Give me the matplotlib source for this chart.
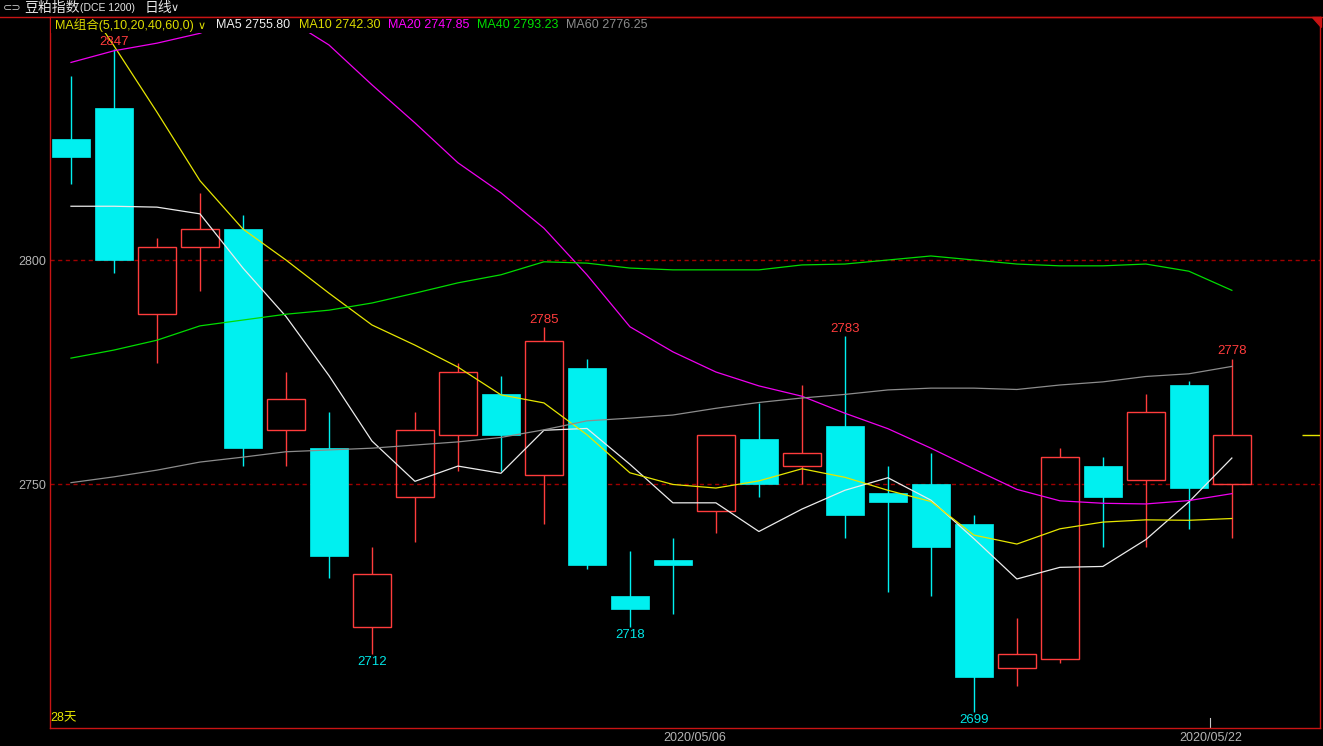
import matplotlib
matplotlib.use('Agg')
import matplotlib.pyplot as plt
from matplotlib.patches import Rectangle, Polygon
from matplotlib.lines import Line2D

# daily candles, soybean meal index (DCE), 28 days
opens  = [2827, 2834, 2788, 2803, 2807, 2762, 2758, 2718, 2747, 2761, 2770, 2752, 2776, 2725,
          2733, 2744, 2760, 2754, 2763, 2748, 2750, 2741, 2709, 2711, 2754, 2751, 2772, 2750]
highs  = [2841, 2847, 2805, 2815, 2810, 2775, 2766, 2736, 2766, 2777, 2774, 2785, 2778, 2735,
          2738, 2761, 2768, 2772, 2783, 2754, 2757, 2743, 2720, 2758, 2756, 2770, 2773, 2778]
lows   = [2817, 2797, 2777, 2793, 2754, 2754, 2729, 2712, 2737, 2753, 2753, 2741, 2731, 2718,
          2721, 2739, 2747, 2750, 2738, 2726, 2725, 2699, 2705, 2710, 2736, 2736, 2740, 2738]
closes = [2823, 2800, 2803, 2807, 2758, 2769, 2734, 2730, 2762, 2775, 2761, 2782, 2732, 2722,
          2732, 2761, 2750, 2757, 2743, 2746, 2736, 2707, 2712, 2756, 2747, 2766, 2749, 2761]

ma5 = [2812.0, 2812.0, 2811.8, 2810.3, 2798.2, 2787.4, 2774.2, 2759.6, 2750.6, 2754.0, 2752.4,
       2762.0, 2762.4, 2754.4, 2745.8, 2745.8, 2739.4, 2744.4, 2748.6, 2751.4, 2746.4, 2737.8,
       2728.8, 2731.4, 2731.6, 2737.6, 2746.0, 2755.8]
ma10 = [2862.0, 2847.8, 2833.0, 2817.7, 2806.9, 2800.0, 2792.6, 2785.5, 2781.0, 2776.1, 2769.9,
        2768.1, 2761.0, 2752.5, 2749.9, 2749.1, 2750.7, 2753.4, 2751.5, 2748.6, 2746.1, 2738.6,
        2736.6, 2740.0, 2741.5, 2742.0, 2741.9, 2742.3]
ma20 = [2844.1, 2846.7, 2848.4, 2850.6, 2854.5, 2854.0, 2848.0, 2839.1, 2830.6, 2821.7, 2815.0,
        2807.1, 2796.7, 2785.1, 2779.5, 2775.0, 2771.9, 2769.6, 2765.8, 2762.35, 2758.0, 2753.35,
        2748.8, 2746.25, 2745.7, 2745.55, 2746.3, 2747.85]
ma40 = [2778.1, 2779.9, 2782.1, 2785.3, 2786.6, 2787.9, 2788.8, 2790.4, 2792.6, 2794.9, 2796.7,
        2799.6, 2799.3, 2798.2, 2797.8, 2797.8, 2797.8, 2798.9, 2799.1, 2800.0, 2800.9, 2800.0,
        2799.1, 2798.7, 2798.7, 2799.1, 2797.5, 2793.23]
ma60 = [2750.3, 2751.6, 2753.1, 2754.9, 2756.0, 2757.2, 2757.6, 2758.0, 2758.7, 2759.4, 2760.4,
        2762.1, 2764.1, 2764.7, 2765.4, 2766.9, 2768.2, 2769.2, 2770.0, 2771.0, 2771.4, 2771.4,
        2771.1, 2772.1, 2772.8, 2774.0, 2774.6, 2776.25]

grid_levels = [2800, 2750]
date_pos = [14.5, 26.5]
date_labels = ['2020/05/06', '2020/05/22']
hi_marks = [1, 11, 18, 27]
lo_marks = [7, 13, 21]

W, H = 1323, 746
UP = '#ff3c3c'
DOWN = '#00f0f0'
FRAME = '#c81414'
plt.rcParams['font.family'] = ['Liberation Sans', 'Noto Sans CJK SC', 'DejaVu Sans']


def fx(px):
    return px / W


def fy(py):
    return 1 - py / H


fig = plt.figure(figsize=(W / 100, H / 100), dpi=100, facecolor='black')
ax = fig.add_axes([50 / W, 1 - 728 / H, 1270 / W, 711 / H], facecolor='black')
ax.set_xlim(-0.488, 29.05)
ax.set_ylim(2695.54, 2854.24)

for lvl in grid_levels:
    ax.axhline(lvl, color='#a00000', lw=1, ls=(0, (3, 2.5)), zorder=1)

# candles
w = 0.88
for i in range(len(closes)):
    o, h, l, c = opens[i], highs[i], lows[i], closes[i]
    if c >= o:
        ax.vlines(i, c, h, color=UP, lw=1, zorder=2)
        ax.vlines(i, l, o, color=UP, lw=1, zorder=2)
        ax.add_patch(Rectangle((i - w / 2, o), w, c - o, facecolor='none',
                               edgecolor=UP, lw=1, zorder=2))
    else:
        ax.vlines(i, l, h, color=DOWN, lw=1, zorder=2)
        ax.add_patch(Rectangle((i - w / 2, c), w, o - c, facecolor=DOWN,
                               edgecolor=DOWN, lw=0.5, zorder=2))

xs = list(range(len(closes)))
ax.plot(xs, ma5, color='#ececec', lw=0.9, zorder=3)
ax.plot(xs, ma10, color='#e6e600', lw=0.9, zorder=3)
ax.plot(xs, ma20, color='#f000f0', lw=0.9, zorder=3)
ax.plot(xs, ma40, color='#00dc00', lw=0.9, zorder=3)
ax.plot(xs, ma60, color='#8c8c8c', lw=0.9, zorder=3)

for i in hi_marks:
    ax.annotate(str(highs[i]), (i, highs[i]), xytext=(0, 1), textcoords='offset points',
                ha='center', va='bottom', color=UP, fontsize=9.5, zorder=4)
for i in lo_marks:
    ax.annotate(str(lows[i]), (i, lows[i]), xytext=(0, -1), textcoords='offset points',
                ha='center', va='top', color='#00e6e6', fontsize=9.5, zorder=4)

# last price marker on the right edge
ax.hlines(closes[-1], 28.63, 29.05, color='#e6e600', lw=1, zorder=3)
ax.axvline(date_pos[1], ymin=0, ymax=10 / 711, color='#c8c8c8', lw=0.8)

ax.set_yticks(grid_levels)
ax.set_yticklabels([str(v) for v in grid_levels])
ax.set_xticks(date_pos)
ax.set_xticklabels(date_labels)
ax.tick_params(axis='both', length=0, colors='#b4b4b4', labelsize=9)
ax.tick_params(axis='y', pad=2.5)
ax.tick_params(axis='x', pad=3)
for s in ax.spines.values():
    s.set_color(FRAME)
    s.set_linewidth(1)

# frame pieces outside the axes
fig.add_artist(Line2D([0, 1], [fy(17), fy(17)], transform=fig.transFigure, color=FRAME, lw=1))
fig.add_artist(Polygon([(fx(1312), fy(17)), (fx(1321), fy(17)), (fx(1321), fy(27))],
                       closed=True, transform=fig.transFigure, color=FRAME, zorder=2))

# legend strip covers the lines beneath it
fig.add_artist(Rectangle((fx(51), fy(33)), (650 - 51) / W, 15 / H, transform=fig.transFigure,
                         facecolor='black', edgecolor='none', zorder=1))

# header
fig.text(fx(3), fy(8), '⊂⊃', color='#c8c8c8', fontsize=8, va='center', family='DejaVu Sans')
fig.text(fx(24), fy(8), '豆粕指数', color='#e6e6e6', fontsize=10, va='center',
         family=['Noto Sans CJK SC', 'DejaVu Sans'])
fig.text(fx(80), fy(8), '(DCE 1200)', color='#e6e6e6', fontsize=7.5, va='center')
fig.text(fx(145), fy(8), '日线', color='#e6e6e6', fontsize=10, va='center',
         family=['Noto Sans CJK SC', 'DejaVu Sans'])
fig.text(fx(171), fy(8), '∨', color='#e6e6e6', fontsize=8, va='center', family='DejaVu Sans')

# legend row
legend_items = [
    (55, 'MA组合(5,10,20,40,60,0)', '#dcdc00'),
    (216, 'MA5 2755.80', '#f0f0f0'),
    (299, 'MA10 2742.30', '#dcdc00'),
    (388, 'MA20 2747.85', '#ff00ff'),
    (477, 'MA40 2793.23', '#00e000'),
    (566, 'MA60 2776.25', '#8c8c8c'),
]
for px, txt, col in legend_items:
    fig.text(fx(px), fy(25), txt, color=col, fontsize=9, va='center', zorder=3)
fig.text(fx(198), fy(26), '∨', color='#dcdc00', fontsize=8, va='center',
         family='DejaVu Sans', zorder=3)

fig.text(fx(50), fy(718), '28天', color='#e6e600', fontsize=9, va='center', zorder=3)

fig.savefig('out.png', dpi=100, facecolor='black')
